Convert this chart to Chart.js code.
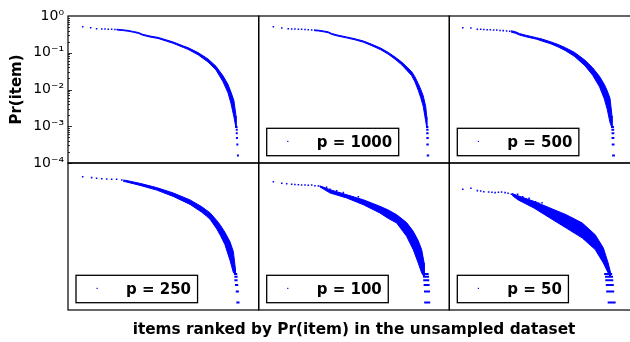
<!DOCTYPE html>
<html>
<head>
<meta charset="utf-8">
<script src="https://cdn.jsdelivr.net/npm/chart.js@4.4.1/dist/chart.umd.min.js"></script>
<style>
  html, body { margin: 0; padding: 0; background: #fff; overflow: hidden; }
  #wrap { position: relative; width: 630px; height: 342px; overflow: hidden; }
  #wrap canvas { position: absolute; left: 0; top: 0; }
  #xlabel { position: absolute; left: 68px; width: 572px; top: 320px; text-align: center;
            font: bold 15.3px "DejaVu Sans"; line-height: 18px; color: #000; }
</style>
</head>
<body>
<div id="wrap">
  <div id="xlabel">items ranked by Pr(item) in the unsampled dataset</div>
</div>
<script>
// rank on x, Pr(item) on y
const yTickValues = [1, 0.1, 0.01, 0.001, 0.0001];
const yTickLabels = ['10⁰', '10⁻¹', '10⁻²', '10⁻³', '10⁻⁴'];
const legendLabels = ['', 'p = 1000', 'p = 500', 'p = 250', 'p = 100', 'p = 50'];

// sparse top-ranked items and stray points: [rank, Pr]
const head1 = [[77,0.51],[119,0.48],[150,0.452],[177,0.443],[194,0.443],[211,0.437],[229,0.435],[246,0.43]];
const head2 = [[77,0.51],[121,0.471],[155,0.452],[173,0.443],[190,0.443],[208,0.437],[225,0.435],[243,0.43],[260,0.424],[278,0.418]];
const head3 = [[73,0.481],[117,0.471],[152,0.435],[170,0.435],[187,0.428],[205,0.424],[222,0.42],[240,0.416],[257,0.414],[275,0.405],[292,0.4],[310,0.392],[327,0.385]];
const head4 = [[77,0.424],[124,0.4],[150,0.383],[177,0.374],[203,0.367],[229,0.36],[255,0.36],[282,0.345]];
const head5 = [[77,0.31],[121,0.28],[147,0.273],[173,0.263],[190,0.26],[208,0.257],[225,0.252],[243,0.252],[260,0.247],[278,0.252],[295,0.241],[313,0.237],
  [330,0.226],[356,0.218],[374,0.192],[391,0.166],[409,0.176],[426,0.15],[444,0.156],[461,0.135],[479,0.126],[496,0.117],[523,0.121]];
const head6 = [[73,0.192],[117,0.205],[152,0.177],[170,0.173],[187,0.166],[213,0.163],[231,0.16],[248,0.156],[266,0.16],[283,0.163],[302,0.156],[318,0.15],[336,0.141],
  [353,0.132],[370,0.141],[397,0.121],[414,0.103],[432,0.109],[449,0.083],[467,0.0885],[484,0.08],[502,0.083]];

// dense part of each curve: [rank, upper Pr, lower Pr]
const band1 = [[255,0.437,0.417],[290,0.42,0.40],[315,0.405,0.385],[342,0.38,0.362],[370,0.355,0.335],[393,0.316,0.298],
  [430,0.285,0.268],[472,0.262,0.245],[518,0.222,0.205],[551,0.197,0.181],[605,0.153,0.139],[629,0.138,0.124],
  [682,0.101,0.088],[734,0.068,0.056],[776,0.043,0.034],[813,0.0235,0.0162],[839,0.0138,0.0081],[855,0.0084,0.0041],
  [870,0.005,0.0018],[881,0.0019,0.0009]];
const band2 = [[290,0.42,0.40],[315,0.41,0.39],[340,0.392,0.372],[365,0.37,0.35],[383,0.335,0.315],[417,0.30,0.283],
  [460,0.27,0.254],[505,0.24,0.225],[550,0.208,0.193],[593,0.17,0.156],[640,0.134,0.121],[680,0.102,0.091],
  [715,0.077,0.067],[750,0.056,0.047],[780,0.04,0.032],[802,0.031,0.024],[820,0.022,0.016],[837,0.0145,0.0095],
  [850,0.0102,0.006],[863,0.0068,0.0035],[876,0.0035,0.0014],[882,0.0018,0.0009]];
const band3 = [[335,0.398,0.363],[360,0.37,0.337],[380,0.333,0.303],[414,0.30,0.273],[472,0.257,0.234],[502,0.236,0.208],
  [551,0.197,0.174],[589,0.168,0.144],[629,0.137,0.114],[677,0.103,0.08],[734,0.063,0.0446],[776,0.0392,0.0245],
  [813,0.0229,0.0119],[839,0.0139,0.0056],[855,0.0093,0.0029],[870,0.0058,0.00126],[881,0.0019,0.0009]];
const band4 = [[290,0.345,0.315],[300,0.34,0.31],[378,0.279,0.246],[465,0.214,0.183],[552,0.153,0.123],[640,0.099,0.0747],
  [700,0.0653,0.0463],[727,0.0516,0.0358],[745,0.0441,0.0294],[780,0.0274,0.0161],[800,0.02,0.0105],[823,0.013,0.006],
  [850,0.0071,0.0022],[867,0.0039,0.00105],[878,0.0013,0.0009]];
const band5 = [[320,0.24,0.225],[374,0.188,0.153],[461,0.137,0.112],[549,0.1,0.0733],[636,0.0664,0.0436],[680,0.0526,0.031],
  [724,0.0392,0.0233],[776,0.024,0.0101],[811,0.0138,0.00437],[837,0.0077,0.0019],[855,0.0044,0.00102],[868,0.0019,0.0008]];
const band6 = [[340,0.148,0.132],[371,0.129,0.1],[458,0.0906,0.0597],[545,0.0597,0.0319],[633,0.0392,0.017],
  [720,0.0233,0.0091],[790,0.0112,0.0044],[834,0.0049,0.0019],[860,0.0019,0.00102],[872,0.0011,0.0008]];

// bottom of the distribution, items seen only k times: [rank, Pr]
const tail1 = [[884,0.00096],[885,0.0008],[885,0.00064],[886,0.00048],[888,0.00032],[891,0.00016]];
const tail2 = [[884,0.00096],[885,0.0008],[885,0.00064],[886,0.00048],[886,0.00032],[888,0.00016]];
const tail3 = [[884,0.00096],[885,0.0008],[886,0.00064],[886,0.00048],[887,0.00032],[889,0.00016]];
const tail4 = [[879,0.00096],[881,0.0008],[881,0.00064],[884,0.00048],[888,0.00032],[891,0.00016]];
const tail5 = [[876,0.00096],[878,0.0008],[879,0.00064],[881,0.00048],[883,0.00032],[884,0.00016]];
const tail6 = [[860,0.00096],[865,0.0008],[866,0.00064],[869,0.00048],[871,0.00032],[879,0.00016]];

const heads = [head1, head2, head3, head4, head5, head6];
const bands = [band1, band2, band3, band4, band5, band6];
const tails = [tail1, tail2, tail3, tail4, tail5, tail6];
const tailHalfWidth = [1, 1.2, 1.4, 1.6, 3, 4];

const BLUE = '#0000ff';
const colEdges = [68, 258.7, 449.3, 640];
const rowEdges = [16, 163, 310];

Chart.defaults.font.family = '"DejaVu Sans"';
Chart.defaults.color = '#000';

// frame, inward ticks on the shared log axis, and the boxed legend
const panelDecor = {
  id: 'panelDecor',
  afterDraw(chart, args, opts) {
    const { ctx, chartArea: a } = chart;
    ctx.save();
    if (opts.ticks) {
      const y = chart.scales.y;
      ctx.strokeStyle = '#000';
      ctx.lineWidth = 0.8;
      ctx.beginPath();
      for (let n = -4; n < 0; n++) {
        for (let k = 1; k < 10; k++) {
          const py = Math.round(y.getPixelForValue(k * Math.pow(10, n))) + 0.5;
          ctx.moveTo(a.left, py);
          ctx.lineTo(a.left + (k === 1 ? 4 : 2), py);
        }
      }
      ctx.stroke();
    }
    ctx.strokeStyle = '#000';
    ctx.lineWidth = 1.2;
    ctx.strokeRect(a.left, a.top, a.right - a.left, a.bottom - a.top);
    if (opts.label) {
      ctx.font = 'bold 15px "DejaVu Sans"';
      const tw = ctx.measureText(opts.label).width;
      const bh = 27.4, bx = a.left + 8, by = a.bottom - 7.3 - bh, bw = 50 + tw + 6.5;
      ctx.fillStyle = '#fff';
      ctx.fillRect(bx, by, bw, bh);
      ctx.lineWidth = 1.3;
      ctx.strokeRect(bx, by, bw, bh);
      ctx.fillStyle = BLUE;
      ctx.fillRect(bx + 20.5, by + 12.5, 1.2, 1.2);
      ctx.fillStyle = '#000';
      ctx.textBaseline = 'alphabetic';
      ctx.fillText(opts.label, bx + 50, by + 18.5);
    }
    ctx.restore();
  }
};

const wrap = document.getElementById('wrap');
const toXY = d => ({ x: d[0], y: d[1] });

for (let i = 0; i < 6; i++) {
  const col = i % 3, row = Math.floor(i / 3);
  const showY = i === 0;
  const canvas = document.createElement('canvas');
  canvas.width = 640;
  canvas.height = 342;
  wrap.insertBefore(canvas, wrap.firstChild);

  const band = bands[i];
  const outline = band.map(d => ({ x: d[0], y: d[1] }))
    .concat(band.slice().reverse().map(d => ({ x: d[0], y: d[2] })));

  new Chart(canvas, {
    type: 'scatter',
    data: {
      datasets: [
        { data: outline, showLine: true, fill: 'shape', tension: 0, borderWidth: 1,
          borderColor: BLUE, backgroundColor: BLUE, pointRadius: 0 },
        { data: heads[i].map(toXY), pointStyle: 'rect', pointRadius: 1.1,
          pointBorderWidth: 0, pointBackgroundColor: BLUE },
        { data: tails[i].map(toXY), pointStyle: 'line', pointRadius: tailHalfWidth[i],
          pointBorderWidth: 2, pointBorderColor: BLUE }
      ]
    },
    options: {
      responsive: false,
      animation: false,
      devicePixelRatio: 1,
      events: [],
      layout: {
        padding: {
          left: showY ? 0 : colEdges[col],
          right: 640 - colEdges[col + 1],
          top: rowEdges[row],
          bottom: 342 - rowEdges[row + 1]
        }
      },
      scales: {
        x: { type: 'linear', min: 0, max: 1000, display: false },
        y: {
          type: 'logarithmic', min: 1e-4, max: 1, display: showY,
          grid: { display: false, drawTicks: false },
          border: { display: false },
          afterFit: s => { s.width = showY ? 68 : 0; },
          afterBuildTicks: s => { s.ticks = yTickValues.map(v => ({ value: v })); },
          ticks: {
            autoSkip: false, padding: 4, font: { size: 14 },
            callback: v => yTickLabels[yTickValues.indexOf(v)]
          },
          title: {
            display: true, text: 'Pr(item)', padding: { top: 8, bottom: 0 },
            font: { size: 15, weight: 'bold' }
          }
        }
      },
      plugins: {
        legend: { display: false },
        tooltip: { enabled: false },
        panelDecor: { ticks: showY, label: legendLabels[i] }
      }
    },
    plugins: [panelDecor]
  });
}
</script>
</body>
</html>
